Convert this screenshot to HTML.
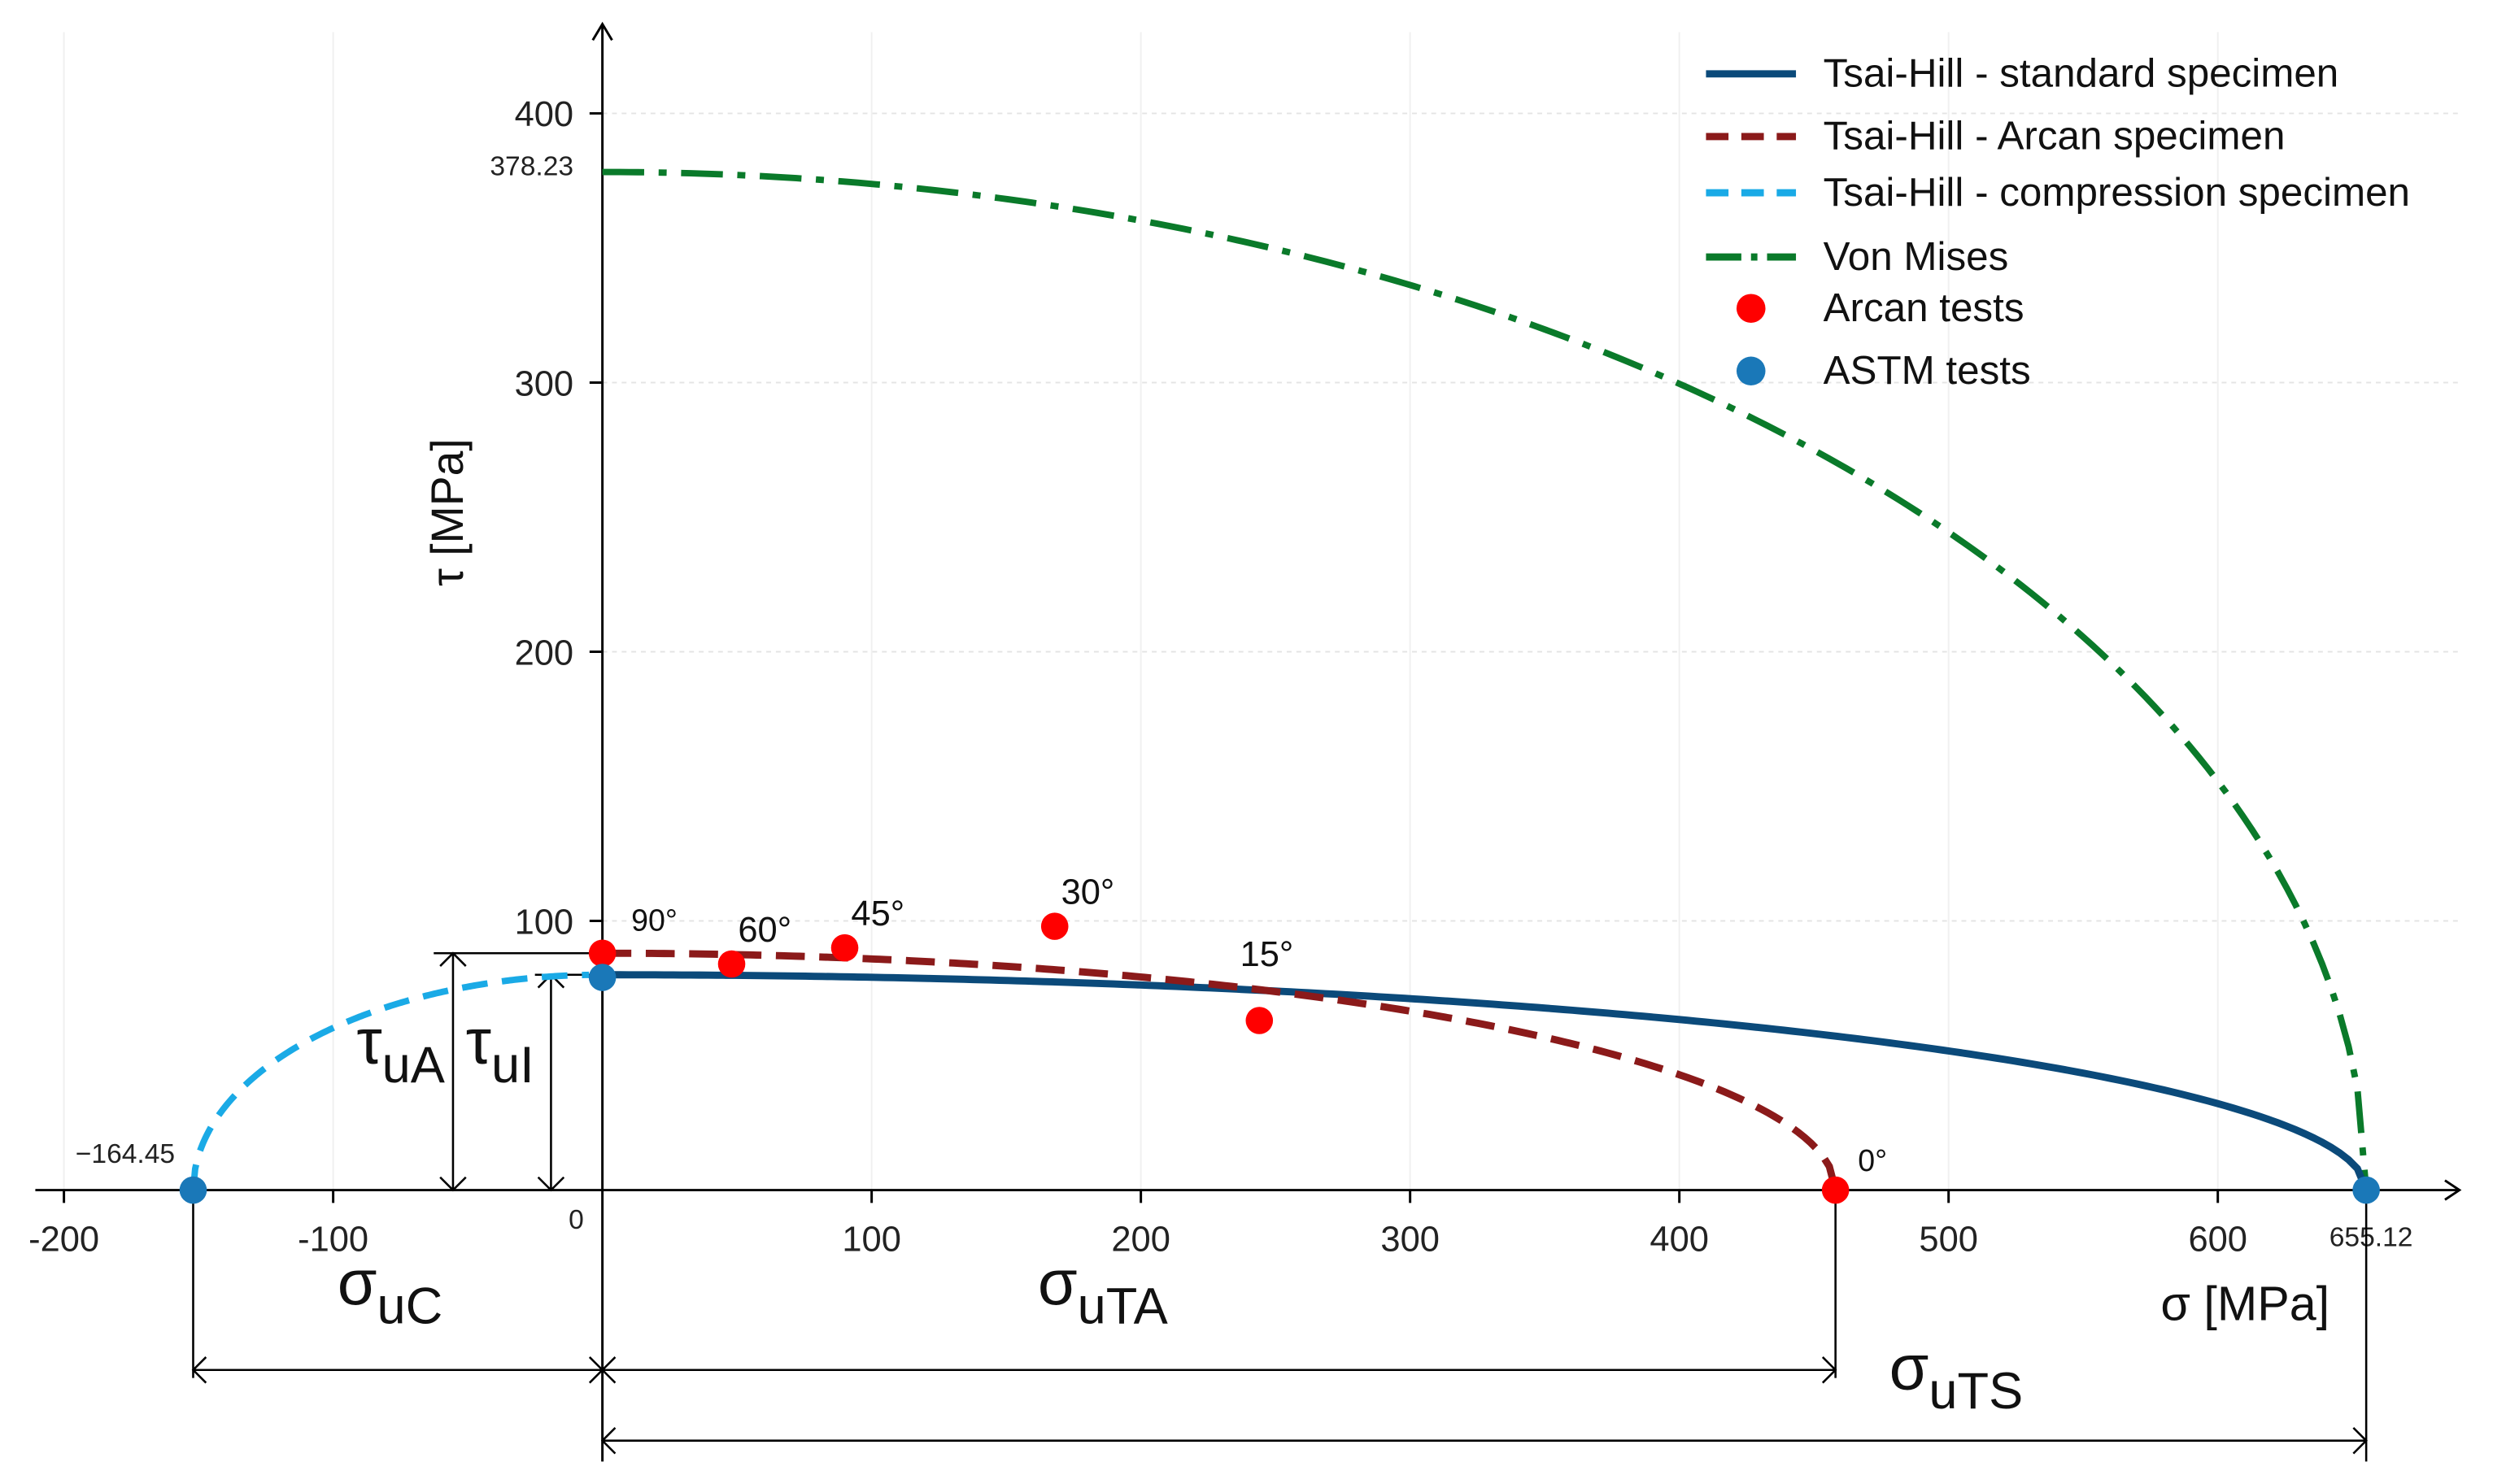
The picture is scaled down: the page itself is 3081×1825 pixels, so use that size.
<!DOCTYPE html>
<html><head><meta charset="utf-8"><style>
html,body{margin:0;padding:0;background:#fff;}
svg{display:block;font-family:"Liberation Sans","DejaVu Sans",sans-serif;}
</style></head><body>
<svg id="chart" width="3081" height="1825" viewBox="0 0 1560 924" preserveAspectRatio="none" xmlns="http://www.w3.org/2000/svg">
<g id="grid"></g>
<g id="axes"></g>
<g id="dims"></g>
<g id="series"></g>
<g id="legend"></g>
</svg>
<script>
const xTicks = [-200,-100,100,200,300,400,500,600];
const yTicks = [100,200,300,400];
const tauStd = 80, sigStd = 655.12;
const tauArc = 88, sigArc = 458;
const sigComp = -152, tauComp = 80;
const tauVM = 378.23;
const arcanLabels = ["90°","60°","45°","30°","15°","0°"];
const arcanSigma = [0,48,90,168,244,458];
const arcanTau = [88,84,90,98,63,0];
const astmSigma = [0,-152,655.12];
const astmTau = [79,0,0];

const NS="http://www.w3.org/2000/svg";
const X0=375, Y0=741, K=1.676;
const sx=v=>X0+v*K, sy=v=>Y0-v*K;
function mk(tag,attrs,parent,txt){const e=document.createElementNS(NS,tag);for(const k in attrs)e.setAttribute(k,attrs[k]);if(txt!==undefined)e.textContent=txt;parent.appendChild(e);return e;}
const grid=document.getElementById('grid'),axes=document.getElementById('axes'),dims=document.getElementById('dims'),series=document.getElementById('series'),legend=document.getElementById('legend');

yTicks.forEach(t=>{const l=mk('line',{x1:X0,x2:1530,y1:sy(t),y2:sy(t),stroke:'#e4e4e4','stroke-width':1,'stroke-dasharray':'3,3'},grid);


const tk=mk('line',{x1:X0-8,x2:X0,y1:sy(t),y2:sy(t),stroke:'#000','stroke-width':1.5},axes);


const tx=mk('text',{x:X0-18,y:sy(t)+8,'font-size':22,'text-anchor':'end',fill:'#222'},axes,String(t));

});
xTicks.forEach(t=>{const l=mk('line',{x1:sx(t),x2:sx(t),y1:Y0,y2:20,stroke:'#f0f0f0','stroke-width':1},grid);


const tk=mk('line',{x1:sx(t),x2:sx(t),y1:Y0,y2:Y0+8,stroke:'#000','stroke-width':1.5},axes);


const tx=mk('text',{x:sx(t),y:Y0+38,'font-size':22,'text-anchor':'middle',fill:'#222'},axes,String(t));

});

let a=mk('line',{x1:22,x2:1530,y1:Y0,y2:Y0,stroke:'#000','stroke-width':1.5},axes);


a=mk('path',{d:'M1522 735 L1531 741 L1522 747',fill:'none',stroke:'#000','stroke-width':1.5},axes);


a=mk('line',{x1:X0,x2:X0,y1:15,y2:910,stroke:'#000','stroke-width':1.5},axes);


a=mk('path',{d:'M369 25 L375 15 L381 25',fill:'none',stroke:'#000','stroke-width':1.5},axes);


a=mk('text',{x:1345,y:822,'font-size':30,fill:'#111'},axes,'σ [MPa]');


a=mk('text',{x:0,y:0,'font-size':28,fill:'#111',transform:'translate(288,365) rotate(-90)'},axes,'τ [MPa]');


a=mk('text',{x:305,y:109,'font-size':17,fill:'#222'},axes,'378.23');


a=mk('text',{x:47,y:724,'font-size':17,fill:'#222'},axes,'−164.45');


a=mk('text',{x:1450,y:776,'font-size':17,fill:'#222'},axes,'655.12');


a=mk('text',{x:354,y:765,'font-size':17,fill:'#222'},axes,'0');



function dl(x1,y1,x2,y2,name){const l=mk('line',{x1,y1,x2,y2,stroke:'#000','stroke-width':1.3},dims);

}
function arrowHead(x,y,dir){const s=8;let d;
if(dir==='l')d=`M${x+s} ${y-s} L${x} ${y} L${x+s} ${y+s}`;
if(dir==='r')d=`M${x-s} ${y-s} L${x} ${y} L${x-s} ${y+s}`;
if(dir==='u')d=`M${x-s} ${y+s} L${x} ${y} L${x+s} ${y+s}`;
if(dir==='d')d=`M${x-s} ${y-s} L${x} ${y} L${x+s} ${y-s}`;
const p=mk('path',{d,fill:'none',stroke:'#000','stroke-width':1.3},dims);

}
dl(270,sy(tauArc),X0,sy(tauArc),'tau-ua-extension');
dl(282,sy(tauArc),282,Y0,'tau-ua-dimension');arrowHead(282,sy(tauArc),'u');arrowHead(282,Y0,'d');
dl(333,sy(tauStd),X0,sy(tauStd),'tau-ui-extension');
dl(343,sy(tauStd),343,Y0,'tau-ui-dimension');arrowHead(343,sy(tauStd),'u');arrowHead(343,Y0,'d');
dl(sx(sigComp),Y0,sx(sigComp),858,'sigma-uc-extension');
dl(sx(sigComp),853,X0,853,'sigma-uc-dimension');arrowHead(sx(sigComp),853,'l');arrowHead(X0,853,'r');
dl(sx(sigArc),Y0,sx(sigArc),858,'sigma-uta-extension');
dl(X0,853,sx(sigArc),853,'sigma-uta-dimension');arrowHead(X0,853,'l');arrowHead(sx(sigArc),853,'r');
dl(sx(sigStd),Y0,sx(sigStd),910,'sigma-uts-extension');
dl(X0,897,sx(sigStd),897,'sigma-uts-dimension');arrowHead(X0,897,'l');arrowHead(sx(sigStd),897,'r');
function sub(x,y,main,s,name,fs){const t=mk('text',{x,y,'font-size':fs,fill:'#111'},dims);


mk('tspan',{},t,main);mk('tspan',{dy:12,'font-size':fs*0.8},t,s);}
sub(222,662,'τ','uA','tau-ua-label',40);
sub(290,662,'τ','uI','tau-ui-label',40);
sub(210,812,'σ','uC','sigma-uc-label',40);
sub(646,812,'σ','uTA','sigma-uta-label',40);
sub(1176,865,'σ','uTS','sigma-uts-label',40);

function ell(a,b,from,to){let pts=[];const n=200;for(let i=0;i<=n;i++){const s=from+(to-from)*i/n;const r=1-(s/a)*(s/a);pts.push([sx(s),sy(b*Math.sqrt(Math.max(0,r)))]);}return 'M'+pts.map(p=>p[0].toFixed(2)+' '+p[1].toFixed(2)).join(' L');}
let c=mk('path',{d:ell(sigStd,tauVM,0,sigStd),fill:'none',stroke:'#0a7a2a','stroke-width':4,'stroke-dasharray':'26,9,5,9'},series);


c=mk('path',{d:ell(sigStd,tauStd,0,sigStd),fill:'none',stroke:'#0b4a7a','stroke-width':4.5},series);


c=mk('path',{d:ell(sigArc,tauArc,0,sigArc),fill:'none',stroke:'#8b1a1a','stroke-width':4.5,'stroke-dasharray':'18,9'},series);


c=mk('path',{d:ell(sigComp,tauComp,sigComp,-5),fill:'none',stroke:'#1aaae6','stroke-width':4,'stroke-dasharray':'16,9'},series);



arcanSigma.forEach((s,i)=>{const p=mk('circle',{cx:sx(s),cy:sy(arcanTau[i]),r:8.5,fill:'#f00'},series);


const off=i===0?[18,-14]:i===5?[14,-12]:i===4?[-12,-34]:[4,-14];
const t=mk('text',{x:sx(s)+off[0],y:sy(arcanTau[i])+off[1],'font-size':i===0||i===5?19:22,fill:'#111'},series,arcanLabels[i]);

});
astmSigma.forEach((s,i)=>{const p=mk('circle',{cx:sx(s),cy:sy(astmTau[i]),r:8.5,fill:'#1a78b8'},series);

});

const legItems=[['line','#0b4a7a',null,'Tsai-Hill - standard specimen',46],['line','#8b1a1a','14,8','Tsai-Hill - Arcan specimen',85],['line','#1aaae6','14,8','Tsai-Hill - compression specimen',120],['line','#0a7a2a','22,6,4,6','Von Mises',160],['dot','#f00',null,'Arcan tests',192],['dot','#1a78b8',null,'ASTM tests',231]];
legItems.forEach(it=>{const g=mk('g',{},legend);


if(it[0]==='line'){const a={x1:1062,x2:1118,y1:it[4],y2:it[4],stroke:it[1],'stroke-width':4.5};if(it[2])a['stroke-dasharray']=it[2];mk('line',a,g);}
else mk('circle',{cx:1090,cy:it[4],r:9,fill:it[1]},g);
mk('text',{x:1135,y:it[4]+8,'font-size':25,fill:'#111'},g,it[3]);});
</script>
</body></html>
